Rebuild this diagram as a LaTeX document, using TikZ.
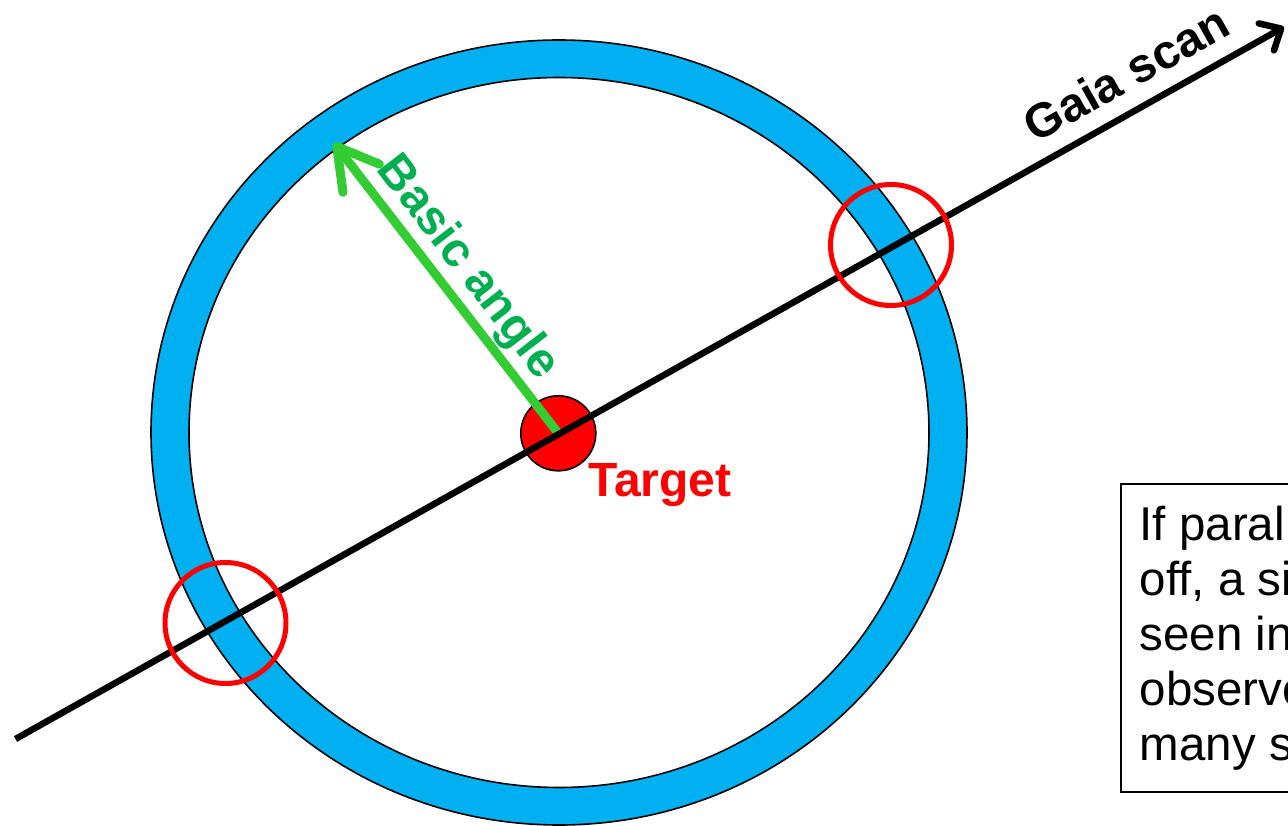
\documentclass[tikz,border=0pt]{standalone}
\usepackage{fontspec}
\setmainfont{Liberation Sans}
\usetikzlibrary{arrows.meta,calc}
\definecolor{ringblue}{RGB}{0,176,240}
\definecolor{arrowgreen}{RGB}{51,204,51}
\definecolor{labelgreen}{RGB}{0,176,80}
\definecolor{pured}{RGB}{255,0,0}
\tikzset{
  lbl/.style={font=\fontsize{48}{55}\selectfont\bfseries, inner sep=0pt},
  ringstyle/.style={draw=black, line width=1.6pt, fill=ringblue, even odd rule},
  targetdot/.style={circle, draw=black, line width=1.6pt, fill=pured, minimum size=75pt, inner sep=0pt},
  hitring/.style={circle, draw=pured, line width=5pt, minimum size=121pt, inner sep=0pt},
  scanline/.style={line width=6.5pt, -{Straight Barb[length=17pt,width=31pt,round]}},
  basearrow/.style={draw=arrowgreen, line width=9pt, -{Straight Barb[length=40pt,width=46pt,round]}},
  notebox/.style={draw=black, line width=1.5pt, anchor=north west, align=left, inner xsep=19pt, inner ysep=22pt, font=\fontsize{47.5}{55}\selectfont}
}
\begin{document}
\begin{tikzpicture}[x=1pt,y=-1pt]
\clip (0,0) rectangle (1288,826);
\fill[white] (0,0) rectangle (1288,826);
% ring
\coordinate (c) at (559,432.5);
\path[ringstyle] (c) ellipse [x radius=408pt, y radius=392.5pt]
                 (c) ellipse [x radius=370pt, y radius=355pt];
% target
\node[targetdot] (tgt) at (558.3,433.3) {};
% basic angle arrow
\coordinate (batip) at (334,143);
\draw[basearrow] (tgt.center) -- (batip);
% Gaia scan line
\coordinate (gs) at (15.5,739);
\coordinate (ge) at (1284,27);
\draw[scanline] (gs) -- (ge);
% crossing markers
\node[hitring] (hitR) at (891,245) {};
\node[hitring] (hitL) at (225.5,623) {};
% labels
\node[lbl, rotate=29.3] (gaialbl) at (1126,73.5) {Gaia scan};
\node[lbl, text=labelgreen, rotate=-52.4] (balbl) at (467,268) {Basic angle};
\node[lbl, text=pured, anchor=base] (tlbl) at (660,496) {Target};
% note box
\node[notebox] (note) at (1120,483) {If paral\\off, a si\\seen in\\observe\\many s};
\end{tikzpicture}
\end{document}
